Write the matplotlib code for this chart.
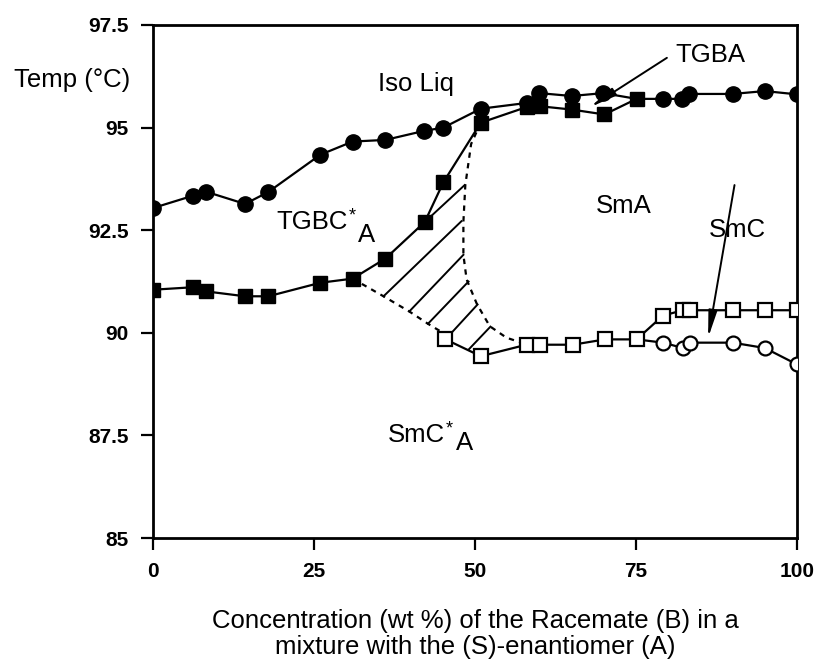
import numpy as np
import matplotlib
matplotlib.use("Agg")
import matplotlib.pyplot as plt

plt.rcParams['font.family'] = ['Liberation Sans', 'DejaVu Sans']

# Iso Liq boundary (filled circles), line passes through the merge point at 75
iso_x = [0, 6.2, 8.2, 14.3, 17.9, 26.0, 31.0, 36.1, 42.1, 45.1, 50.9, 58.0, 60.0, 65.0, 69.9, 79.2, 82.2, 83.2, 90.0, 95.0, 100]
iso_y = [93.04, 93.34, 93.44, 93.14, 93.43, 94.34, 94.66, 94.70, 94.92, 95.0, 95.46, 95.6, 95.84, 95.77, 95.84, 95.7, 95.7, 95.82, 95.82, 95.89, 95.81]

# TGBC / TGBA lower boundary (filled squares)
tgb_x = [0, 6.2, 8.2, 14.3, 17.9, 26.0, 31.0, 36.1, 42.2, 45.1, 50.9, 58.0, 60.1, 65.0, 70.1, 75.1]
tgb_y = [91.05, 91.11, 91.01, 90.89, 90.89, 91.22, 91.32, 91.81, 92.70, 93.67, 95.12, 95.5, 95.52, 95.44, 95.32, 95.7]

# SmC*A / SmA / SmC boundary (open squares)
sma_x = [45.3, 50.9, 58.0, 60.1, 65.2, 70.2, 75.1, 79.2, 82.3, 83.4, 90.0, 95.0, 100]
sma_y = [89.85, 89.43, 89.71, 89.71, 89.71, 89.84, 89.84, 90.42, 90.55, 90.55, 90.55, 90.55, 90.55]

# SmC / SmC*A boundary (open circles), starts from the open square at 75
smc_x = [79.2, 82.3, 83.4, 90.0, 95.0, 100]
smc_y = [89.76, 89.63, 89.76, 89.76, 89.63, 89.23]

# dotted limits of the two-phase (hatched) region
dot1_x = [31.0, 35.8, 39.8, 42.7, 44.6, 45.3]
dot1_y = [91.32, 90.89, 90.52, 90.22, 90.04, 89.9]
dot2_x = [50.9, 49.4, 48.5, 48.2, 48.2, 48.7, 50.3, 52.3, 54.9, 57.4]
dot2_y = [95.12, 94.6, 93.6, 92.7, 91.9, 91.3, 90.7, 90.16, 89.88, 89.75]

# hatch lines (x0, y0, x1, y1)
hatch_x0 = [42.2, 35.8, 39.8, 42.7, 46.3, 49.0]
hatch_y0 = [92.70, 90.89, 90.52, 90.22, 89.99, 89.59]
hatch_x1 = [48.4, 47.9, 48.2, 49.0, 50.4, 52.4]
hatch_y1 = [93.6, 92.72, 91.9, 91.25, 90.69, 90.15]

yticks = [85, 87.5, 90, 92.5, 95, 97.5]
ytick_labels = ['85', '87.5', '90', '92.5', '95', '97.5']
xticks = [0, 25, 50, 75, 100]

fig = plt.figure(figsize=(8.15, 6.63), dpi=100)
ax = fig.add_axes([0.1877, 0.1885, 0.7902, 0.7738])

lw = 1.6
# upper line: circles, the 75 point is the shared square
line_x = iso_x[:15] + [75.1] + iso_x[15:]
line_y = iso_y[:15] + [95.7] + iso_y[15:]
ax.plot(line_x, line_y, color='black', lw=lw, zorder=2)
ax.plot(iso_x, iso_y, 'o', color='black', ms=11, zorder=3)
ax.plot(tgb_x, tgb_y, 's-', color='black', lw=lw, ms=9.5, zorder=3)

ax.plot(sma_x, sma_y, 's-', color='black', mfc='white', mec='black', mew=1.6, lw=lw, ms=9.5, zorder=3)
ax.plot([sma_x[6]] + smc_x, [sma_y[6]] + smc_y, '-', color='black', lw=lw, zorder=2)
ax.plot(smc_x, smc_y, 'o', color='black', mfc='white', mec='black', mew=1.6, ms=10, zorder=3)

ax.plot(dot1_x, dot1_y, color='black', lw=1.6, ls=(0, (2.4, 2.4)), zorder=1)
ax.plot(dot2_x, dot2_y, color='black', lw=1.6, ls=(0, (2.4, 2.4)), zorder=1)
for x0, y0, x1, y1 in zip(hatch_x0, hatch_y0, hatch_x1, hatch_y1):
    ax.plot([x0, x1], [y0, y1], color='black', lw=1.4, zorder=1)

# region labels
fs = 18.5
ax.text(40.9, 96.06, 'Iso Liq', fontsize=fs, ha='center', va='center')
ax.text(73.1, 93.08, 'SmA', fontsize=fs, ha='center', va='center')


def starred(x, y, base, drop):
    # base text, small superscript star, then a full size lowered "A"
    t = ax.text(x, y, base, fontsize=fs, ha='left', va='center')
    ax.annotate('*', xy=(1, 1), xycoords=t, xytext=(0.5, 1.5), textcoords='offset points',
                fontsize=13, ha='left', va='top')
    ax.annotate('A', xy=(1, 0.5), xycoords=t, xytext=(7.5, -drop), textcoords='offset points',
                fontsize=fs, ha='left', va='center')


starred(19.2, 92.71, 'TGBC', 10)
starred(36.5, 87.52, 'SmC', 6)

arrow = dict(arrowstyle='-|>,head_length=0.8,head_width=0.13', color='black', lw=1.4,
             shrinkA=0, shrinkB=0, mutation_scale=20)
ax.text(81.1, 96.77, 'TGBA', fontsize=fs, ha='left', va='center')
ax.annotate('', xy=(67.9, 95.5), xytext=(79.8, 96.7), arrowprops=arrow)
ax.text(90.8, 92.51, 'SmC', fontsize=fs, ha='center', va='center')
ax.annotate('', xy=(86.2, 89.88), xytext=(90.3, 93.6), arrowprops=arrow)

ax.set_xlim(0, 100)
ax.set_ylim(85, 97.5)
ax.set_xticks(xticks)
ax.set_xticklabels([str(x) for x in xticks], fontsize=15, fontweight='bold')
ax.set_yticks(yticks)
ax.set_yticklabels(ytick_labels, fontsize=15, fontweight='bold')
ax.tick_params(direction='out', length=8.5, width=1.6, pad=9)
for s in ax.spines.values():
    s.set_linewidth(2)

fig.text(72 / 815, 1 - 80 / 663, 'Temp (°C)', fontsize=fs, ha='center', va='center')
fig.text(475 / 815, 1 - 634 / 663, 'Concentration (wt %) of the Racemate (B) in a\nmixture with the (S)-enantiomer (A)',
         fontsize=fs, ha='center', va='center', linespacing=1.08)

fig.savefig('out.png', dpi=100)
